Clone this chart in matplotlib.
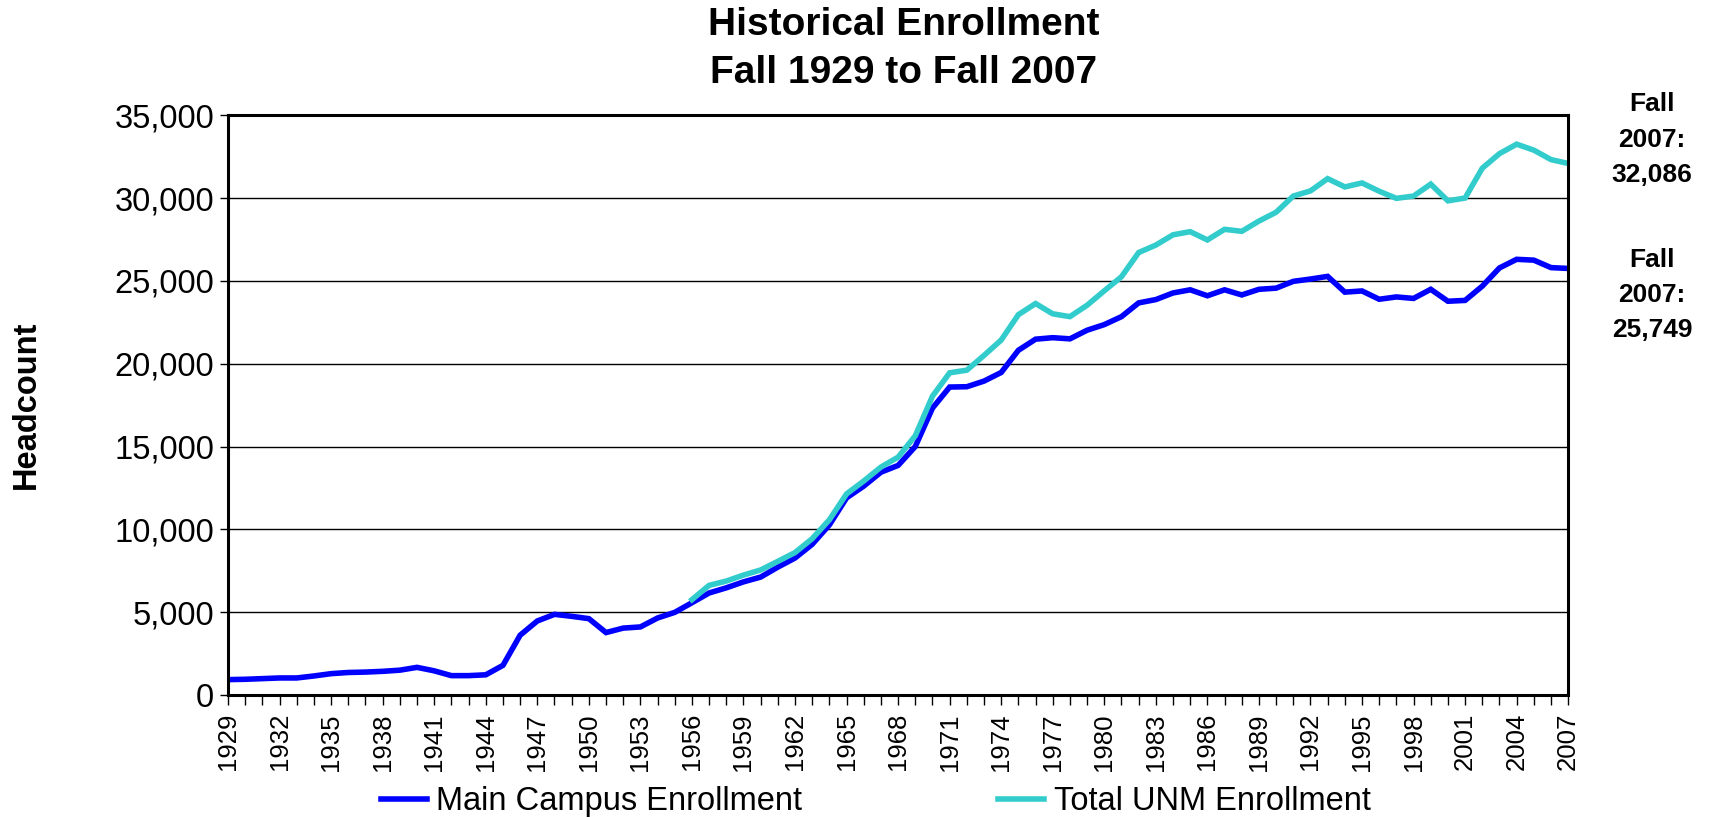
#!/usr/bin/env python3

import matplotlib
matplotlib.use('Agg')
import matplotlib.pyplot as plt
import numpy as np

plt.rcParams['font.family'] = ['Liberation Sans', 'DejaVu Sans']

# enrollment by fall term
years = list(range(1929, 2008))
main_campus = [930, 950, 990, 1030, 1030, 1150, 1290, 1360, 1385, 1430, 1500,
               1670, 1460, 1170, 1170, 1220, 1790, 3610, 4470, 4870, 4750,
               4610, 3770, 4040, 4110, 4650, 4990, 5570, 6160, 6470, 6830,
               7120, 7720, 8270, 9100, 10270, 11900, 12610, 13450, 13860, 15000,
               17320, 18590, 18610, 18950, 19470, 20810, 21480, 21570, 21500, 22020,
               22360, 22840, 23670, 23870, 24270, 24460, 24100, 24460, 24150, 24490,
               24560, 24970, 25110, 25270, 24320, 24390, 23890, 24030, 23940, 24490,
               23770, 23820, 24680, 25780, 26300, 26250, 25800, 25749]

total_years = list(range(1956, 2008))
total_unm = [5760, 6620, 6880, 7240,
             7550, 8070, 8600, 9440, 10580, 12140, 12920, 13760, 14360, 15650,
             18040, 19450, 19610, 20500, 21430, 22960, 23630, 23010, 22840, 23530,
             24400, 25250, 26710, 27160, 27780, 27970, 27470, 28110, 27990, 28610,
             29140, 30120, 30430, 31170, 30670, 30910, 30410, 29980, 30120, 30840,
             29830, 30000, 31800, 32680, 33250, 32890, 32320, 32086]

yticks = list(range(0, 35001, 5000))

fig = plt.figure(figsize=(17.12, 8.17), dpi=100)
ax = fig.add_axes([0.1332, 0.1493, 0.7828, 0.7097])

ax.plot(years, main_campus, color='#0000FF', lw=4, label='Main Campus Enrollment',
        solid_joinstyle='miter')
ax.plot(total_years, total_unm, color='#33CCCC', lw=4, label='Total UNM Enrollment',
        solid_joinstyle='miter')

ax.set_xlim(years[0], years[-1])
ax.set_ylim(0, 35000)
ax.set_yticks(yticks)
ax.set_yticklabels(['{:,}'.format(v) for v in yticks], fontsize=23.5)
ax.set_xticks(years)
ax.set_xticklabels([str(y) if (y - 1929) % 3 == 0 else '' for y in years],
                   rotation=90, fontsize=18.5)
ax.tick_params(axis='x', direction='out', length=7, width=1, pad=6)
ax.tick_params(axis='y', direction='out', length=6, width=1, pad=4)

ax.grid(axis='y', color='black', lw=1)
ax.set_axisbelow(True)
for s in ax.spines.values():
    s.set_linewidth(2.2)
    s.set_color('black')

ax.set_ylabel('Headcount', fontsize=23.5, fontweight='bold', labelpad=0)
ax.yaxis.set_label_coords(-0.139, 0.5)

fig.text(0.528, 0.992, 'Historical Enrollment\nFall 1929 to Fall 2007', ha='center',
         va='top', fontsize=28, fontweight='bold', linespacing=1.45)

fig.text(0.965, 0.829, 'Fall\n2007:\n{:,}'.format(total_unm[-1]), ha='center',
         va='center', fontsize=19, fontweight='bold', linespacing=1.6)
fig.text(0.965, 0.639, 'Fall\n2007:\n{:,}'.format(main_campus[-1]), ha='center',
         va='center', fontsize=19, fontweight='bold', linespacing=1.6)

fig.legend(loc='center', bbox_to_anchor=(0.5115, 0.019), ncol=2, frameon=False,
           fontsize=23.5, handlelength=1.4, handletextpad=0.3, columnspacing=6.0)

fig.savefig('out.png', dpi=100)
